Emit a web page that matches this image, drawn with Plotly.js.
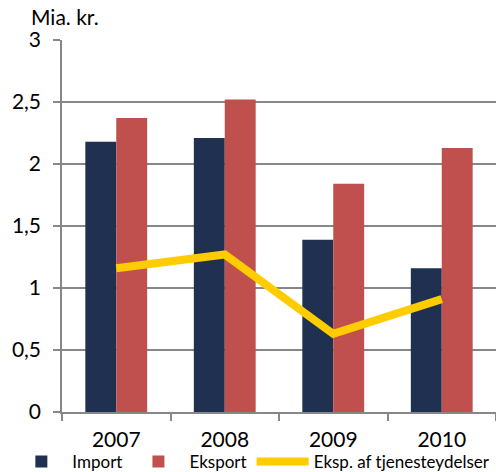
<!DOCTYPE html>
<html>
<head>
<meta charset="utf-8">
<script src="https://cdn.plot.ly/plotly-3.0.1.min.js"></script>
<style>
  body { margin: 0; background: #fff; }
  #chart { width: 496px; height: 472px; }
</style>
</head>
<body>
<div id="chart"></div>
<script>
// Data (billion DKK)
const years = ['2007', '2008', '2009', '2010'];
const importVals = [2.18, 2.21, 1.39, 1.16];
const eksportVals = [2.37, 2.52, 1.84, 2.13];
const tjenesteVals = [1.16, 1.27, 0.63, 0.91];
const yTicks = [0, 0.5, 1, 1.5, 2, 2.5, 3];

const fontFamily = 'Lato, "Open Sans", sans-serif';

var traceImport = {
    type: 'bar',
    x: years,
    y: importVals,
    name: 'Import',
    marker: { color: '#1F3050' },
};

var traceEksport = {
    type: 'bar',
    x: years,
    y: eksportVals,
    name: 'Eksport',
    marker: { color: '#C0504D' },
};

var traceTjeneste = {
    type: 'scatter',
    mode: 'lines',
    x: years,
    y: tjenesteVals,
    name: 'Eksp. af tjenesteydelser',
    line: { color: '#FFCC00', width: 8 },
};

var layout = {
    width: 496,
    height: 472,
    margin: { l: 62, r: 0, t: 40, b: 60, autoexpand: false },
    paper_bgcolor: '#ffffff',
    plot_bgcolor: '#ffffff',
    separators: ',.',
    font: { family: fontFamily, size: 21, color: '#000000' },
    barmode: 'group',
    bargap: 0.43,
    bargroupgap: 0,
    showlegend: true,
    legend: {
        orientation: 'h',
        x: -0.119,
        xanchor: 'left',
        y: -0.134,
        yanchor: 'middle',
        bgcolor: 'rgba(0,0,0,0)',
        font: { family: fontFamily, size: 17, color: '#000000' },
        itemwidth: 52,
        tracegroupgap: 0,
    },
    xaxis: {
        type: 'category',
        tickson: 'boundaries',
        ticks: 'outside',
        ticklen: 7,
        tickcolor: '#878787',
        tickwidth: 1.5,
        ticklabelstandoff: 8,
        showline: true,
        linecolor: '#878787',
        linewidth: 1.5,
        showgrid: false,
        tickfont: { family: fontFamily, size: 21 },
    },
    yaxis: {
        range: [0, 3],
        tickvals: yTicks,
        ticks: 'outside',
        ticklen: 7,
        tickcolor: '#878787',
        tickwidth: 1.5,
        ticklabelstandoff: 8,
        showline: true,
        linecolor: '#878787',
        linewidth: 1.5,
        showgrid: true,
        gridcolor: '#878787',
        gridwidth: 1.5,
        zeroline: false,
        tickfont: { family: fontFamily, size: 21 },
    },
    annotations: [{
        text: 'Mia. kr.',
        xref: 'paper',
        yref: 'paper',
        x: -0.077,
        xanchor: 'left',
        y: 1.062,
        yanchor: 'middle',
        showarrow: false,
        font: { family: fontFamily, size: 21, color: '#000000' },
    }],
};

Plotly.newPlot('chart', [traceImport, traceEksport, traceTjeneste], layout, { displayModeBar: false });
</script>
</body>
</html>
